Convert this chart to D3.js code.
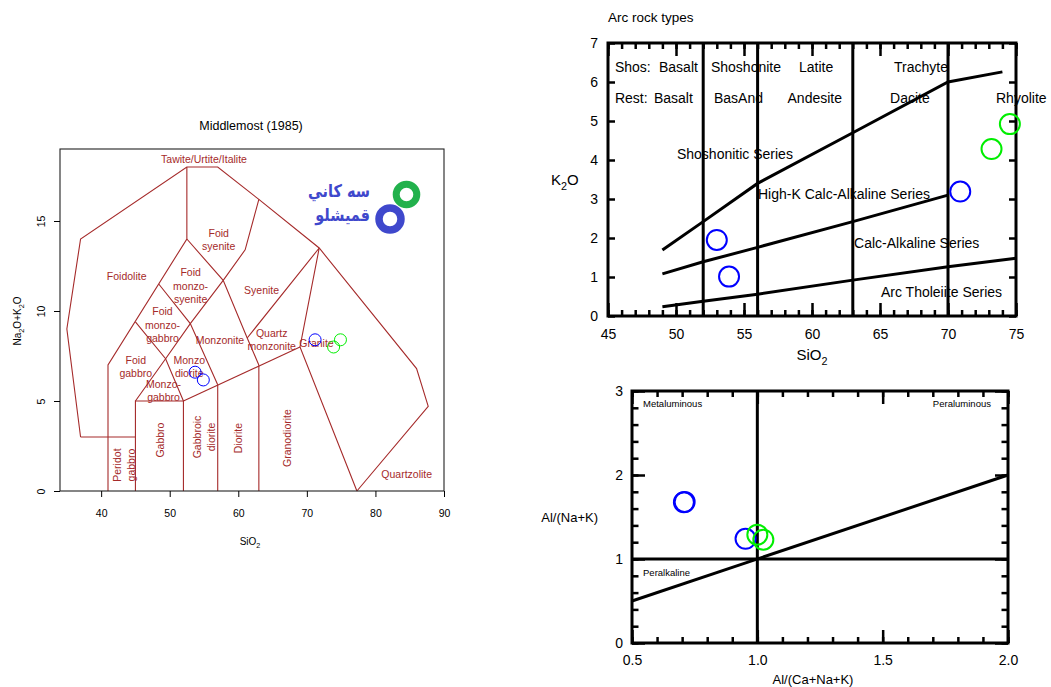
<!DOCTYPE html>
<html>
<head>
<meta charset="utf-8">
<script src="https://cdn.jsdelivr.net/npm/d3@7"></script>
<style>
  body { margin: 0; background: #fff; }
  svg { display: block; }
  text { font-family: "Liberation Sans", Arial, Helvetica, sans-serif; fill: #000; }
</style>
</head>
<body>
<svg id="fig" width="1051" height="687"></svg>
<script>
// ================= data =================
// Middlemost plutonic TAS diagram
const tasXTicks = [40, 50, 60, 70, 80, 90];
const tasYTicks = [0, 5, 10, 15];
const tasBlueSiO2 = [53.7, 54.9, 71.2];
const tasBlueAlk = [6.6, 6.17, 8.4];
const tasGreenSiO2 = [74.9, 73.9];
const tasGreenAlk = [8.4, 8.0];
// field boundaries, [SiO2, Na2O+K2O]
const tasBoundaries = [
  [[37, 3], [35, 9], [37, 14], [52.5, 18], [57, 18], [63, 16.2], [71.8, 13.5], [86, 6.8], [87.7, 4.7], [77.3, 0]],
  [[37, 3], [45, 3]],
  [[41, 0], [41, 7], [52.5, 14], [52.5, 18]],
  [[45, 0], [45, 5], [52, 5], [52, 0]],
  [[45, 5], [49.4, 7.35], [53, 9.3], [57.8, 11.7]],
  [[45, 9.4], [49.4, 7.35], [52, 5]],
  [[48.4, 11.5], [53, 9.3], [57, 5.9]],
  [[57, 0], [57, 5.9]],
  [[52, 5], [69, 8]],
  [[63, 0], [63, 7], [61.3, 8.5], [57.8, 11.7], [52.5, 14]],
  [[57.8, 11.7], [61, 13.4], [63, 16.2]],
  [[61.3, 8.5], [71.8, 13.5], [69, 8], [77.3, 0]]
];
const tasFieldNames = [
  ["Tawite/Urtite/Italite"], ["Foid", "syenite"], ["Foidolite"], ["Foid", "monzo-", "syenite"],
  ["Foid", "monzo-", "gabbro"], ["Monzonite"], ["Syenite"], ["Quartz", "monzonite"], ["Granite"],
  ["Foid", "gabbro"], ["Monzo", "diorite"], ["Monzo-", "gabbro"], ["Quartzolite"]
];
const tasFieldAt = [
  [55.0, 18.43], [57.15, 14.32], [43.73, 11.9], [53.05, 12.13],
  [48.95, 9.96], [57.33, 8.39], [63.4, 11.17], [64.87, 8.76], [71.4, 8.22],
  [45.05, 7.28], [52.85, 7.28], [49.1, 5.93], [84.56, 0.94]
];
// upright field names in the low-alkali columns
const tasColumnNames = [["Peridot", "gabbro"], ["Gabbro"], ["Gabbroic", "diorite"], ["Diorite"], ["Granodiorite"]];
const tasColumnAt = [[43.36, 1.44], [48.58, 2.83], [55.05, 3.0], [60.0, 2.94], [67.15, 2.94]];
const legendNames = ["سه كاني", "قميشلو"];

// K2O vs SiO2 (arc rock types)
const k2oXTicks = [45, 50, 55, 60, 65, 70, 75];
const k2oYTicks = [0, 1, 2, 3, 4, 5, 6, 7];
const rockDividers = [52, 56, 63, 70];
const tholeiiteLine = [[49, 0.24], [52, 0.38], [56, 0.56], [63, 0.92], [70, 1.26], [75, 1.48]];
const calcAlkalineLine = [[49, 1.08], [52, 1.39], [56, 1.76], [63, 2.42], [70, 3.1]];
const shoshoniticLine = [[49, 1.69], [52, 2.42], [56, 3.4], [63, 4.7], [70, 6.0], [74, 6.26]];
const k2oBlueSiO2 = [53.0, 53.9, 70.9];
const k2oBlueK2O = [1.95, 1.01, 3.19];
const k2oGreenSiO2 = [74.55, 73.2];
const k2oGreenK2O = [4.92, 4.28];
const shosNames = ["Shos:", "Basalt", "Shoshonite", "Latite", "Trachyte"];
const shosAt = [45.51, 48.75, 52.57, 59.04, 66.03];
const restNames = ["Rest:", "Basalt", "BasAnd", "Andesite", "Dacite", "Rhyolite"];
const restAt = [45.51, 48.38, 52.79, 58.2, 65.74, 73.53];
const seriesNames = ["Shoshonitic Series", "High-K Calc-Alkaline Series", "Calc-Alkaline Series", "Arc Tholeiite Series"];
const seriesAt = [[50.07, 4.15], [56.03, 3.13], [63.09, 1.88], [65.07, 0.615]];

// A/NK vs A/CNK
const acnkTicks = [0.5, 1.0, 1.5, 2.0];
const ankTicks = [0, 1, 2, 3];
const blueACNK = [0.707, 0.71, 0.953];
const blueANK = [1.675, 1.68, 1.24];
const greenACNK = [1.0, 1.024];
const greenANK = [1.29, 1.23];

// ================= drawing =================
const svg = d3.select("#fig");
const RED = "#a52a2a";
const BLUE = "#0000ff";
const GREEN = "#00ee00";

function rich(t, parts, size) {
  // parts: [string, isSubscript]
  let shifted = false;
  parts.forEach(([s, sub]) => {
    const sp = t.append("tspan").text(s);
    if (sub && !shifted) { sp.attr("dy", size * 0.3).style("font-size", (size * 0.72) + "px"); shifted = true; }
    else if (sub) { sp.style("font-size", (size * 0.72) + "px"); }
    else if (shifted) { sp.attr("dy", -size * 0.3); shifted = false; }
  });
}
function styleAxis(g, width) {
  g.select(".domain").remove();
  g.selectAll(".tick line").attr("stroke", "#000").attr("stroke-width", width);
  g.attr("font-family", null).attr("font-size", null);
}

// ---------- TAS panel ----------
const tx = d3.scaleLinear().domain([34, 90]).range([60, 444]);
const ty = d3.scaleLinear().domain([0, 19]).range([491, 149]);
const tas = svg.append("g");
const tline = d3.line().x(d => tx(d[0])).y(d => ty(d[1]));

tas.append("text").attr("x", 251).attr("y", 126).attr("dy", "0.35em")
  .attr("text-anchor", "middle").style("font-size", "12.5px").text("Middlemost (1985)");

tas.selectAll("path.field").data(tasBoundaries).join("path")
  .attr("class", "field").attr("d", tline)
  .attr("fill", "none").attr("stroke", RED).attr("stroke-width", 1.1);

tas.selectAll("text.fname").data(tasFieldNames).join("text")
  .attr("class", "fname").attr("text-anchor", "middle")
  .style("font-size", "10.5px").style("fill", RED)
  .each(function (lines, i) {
    const t = d3.select(this);
    const x0 = tx(tasFieldAt[i][0]), y0 = ty(tasFieldAt[i][1]);
    lines.forEach((ln, j) => t.append("tspan").attr("x", x0).attr("y", y0 + j * 13.4).attr("dy", "0.35em").text(ln));
  });

tas.selectAll("text.cname").data(tasColumnNames).join("text")
  .attr("class", "cname").attr("text-anchor", "middle")
  .style("font-size", "10.5px").style("fill", RED)
  .attr("transform", (d, i) => `translate(${tx(tasColumnAt[i][0])},${ty(tasColumnAt[i][1])}) rotate(-90)`)
  .each(function (lines) {
    const t = d3.select(this);
    const off = (lines.length - 1) * 14.6 / 2;
    lines.forEach((ln, j) => t.append("tspan").attr("x", 0).attr("y", -off + j * 14.6).attr("dy", "0.35em").text(ln));
  });

tas.append("rect").attr("x", 60).attr("y", 149).attr("width", 384).attr("height", 342)
  .attr("fill", "none").attr("stroke", "#222").attr("stroke-width", 1.1);

const tasXAxis = tas.append("g").attr("transform", "translate(0,491)")
  .call(d3.axisBottom(tx).tickValues(tasXTicks).tickSize(6).tickPadding(14).tickFormat(d3.format("d")));
styleAxis(tasXAxis, 1);
tasXAxis.selectAll(".tick text").attr("dy", "0.35em").attr("y", 22).style("font-size", "10.5px");

const tasYAxis = tas.append("g").attr("transform", "translate(60,0)")
  .call(d3.axisLeft(ty).tickValues(tasYTicks).tickSize(6).tickFormat(d3.format("d")));
styleAxis(tasYAxis, 1);
tasYAxis.selectAll(".tick text").attr("x", null).attr("dy", null)
  .attr("text-anchor", "middle").attr("transform", "translate(-18.3,0) rotate(-90)")
  .attr("y", 0).attr("dy", "0.35em").style("font-size", "10.5px");

const sio2T = tas.append("text").attr("x", 250).attr("y", 541).attr("text-anchor", "middle")
  .attr("dy", "0.35em").style("font-size", "10px");
rich(sio2T, [["SiO", false], ["2", true]], 10);
const alkT = tas.append("text").attr("text-anchor", "middle")
  .attr("transform", "translate(17,321) rotate(-90)").attr("dy", "0.35em").style("font-size", "10px");
rich(alkT, [["Na", false], ["2", true], ["O+K", false], ["2", true], ["O", false]], 10);

tas.selectAll("circle.tb").data(tasBlueSiO2).join("circle").attr("class", "tb")
  .attr("cx", d => tx(d)).attr("cy", (d, i) => ty(tasBlueAlk[i])).attr("r", 6)
  .attr("fill", "none").attr("stroke", BLUE).attr("stroke-width", 1);
tas.selectAll("circle.tg").data(tasGreenSiO2).join("circle").attr("class", "tg")
  .attr("cx", d => tx(d)).attr("cy", (d, i) => ty(tasGreenAlk[i])).attr("r", 6)
  .attr("fill", "none").attr("stroke", GREEN).attr("stroke-width", 1);

// legend: ring symbols with locality names
const lg = tas.append("g");
lg.append("circle").attr("cx", 406.5).attr("cy", 194.5).attr("r", 10.3)
  .attr("fill", "none").attr("stroke", "#22b14c").attr("stroke-width", 7);
lg.append("circle").attr("cx", 390).attr("cy", 219).attr("r", 11)
  .attr("fill", "none").attr("stroke", "#3f48cc").attr("stroke-width", 7.5);
lg.selectAll("text").data(legendNames).join("text")
  .attr("text-anchor", "end")
  .attr("transform", (d, i) => `translate(370,${191 + i * 24}) scale(1,1.2)`)
  .attr("dy", "0.35em")
  .style("font-family", "'DejaVu Sans', 'Noto Sans', sans-serif")
  .style("font-size", "14.5px").style("font-weight", "bold").style("fill", "#3f48cc")
  .text(d => d);

// ---------- K2O vs SiO2 panel ----------
const kx = d3.scaleLinear().domain([45, 75]).range([608, 1016]);
const ky = d3.scaleLinear().domain([0, 7]).range([316, 43]);
const kp = svg.append("g");
const kline = d3.line().x(d => kx(d[0])).y(d => ky(d[1]));

kp.append("text").attr("x", 608).attr("y", 17).attr("dy", "0.35em").style("font-size", "13.5px").text("Arc rock types");

kp.selectAll("line.div").data(rockDividers).join("line").attr("class", "div")
  .attr("x1", d => kx(d)).attr("x2", d => kx(d)).attr("y1", ky(0)).attr("y2", ky(7))
  .attr("stroke", "#000").attr("stroke-width", 3);
kp.selectAll("path.series").data([tholeiiteLine, calcAlkalineLine, shoshoniticLine]).join("path")
  .attr("class", "series").attr("d", kline).attr("fill", "none")
  .attr("stroke", "#000").attr("stroke-width", 3);

const kMinor = d3.range(45, 76, 1);
[["b", 316], ["t", 43]].forEach(([side, yy]) => {
  const mk = side === "b" ? d3.axisBottom : d3.axisTop;
  const g1 = kp.append("g").attr("transform", `translate(0,${yy})`)
    .call(mk(kx).tickValues(kMinor).tickSizeInner(-6).tickSizeOuter(0).tickFormat(""));
  styleAxis(g1, 2.5);
  const g2 = kp.append("g").attr("transform", `translate(0,${yy})`)
    .call(mk(kx).tickValues(k2oXTicks).tickSizeInner(-13).tickSizeOuter(0).tickPadding(13)
      .tickFormat(side === "b" ? d3.format("d") : ""));
  styleAxis(g2, 2.5);
  g2.selectAll(".tick text").style("font-size", "14px");
});
const kyl = kp.append("g").attr("transform", "translate(608,0)")
  .call(d3.axisLeft(ky).tickValues(k2oYTicks).tickSizeInner(-7).tickSizeOuter(0).tickPadding(10).tickFormat(d3.format("d")));
styleAxis(kyl, 2.5);
kyl.selectAll(".tick text").style("font-size", "14px");
const kyr = kp.append("g").attr("transform", "translate(1016,0)")
  .call(d3.axisRight(ky).tickValues(k2oYTicks).tickSizeInner(-7).tickSizeOuter(0).tickFormat(""));
styleAxis(kyr, 2.5);

kp.append("rect").attr("x", 608).attr("y", 43).attr("width", 408).attr("height", 273)
  .attr("fill", "none").attr("stroke", "#000").attr("stroke-width", 3);

kp.selectAll("text.shos").data(shosNames).join("text").attr("class", "shos")
  .attr("x", (d, i) => kx(shosAt[i])).attr("y", ky(6.37)).attr("dy", "0.35em")
  .style("font-size", "14px").text(d => d);
kp.selectAll("text.rest").data(restNames).join("text").attr("class", "rest")
  .attr("x", (d, i) => kx(restAt[i])).attr("y", ky(5.6)).attr("dy", "0.35em")
  .style("font-size", "14px").text(d => d);
kp.selectAll("text.ser").data(seriesNames).join("text").attr("class", "ser")
  .attr("x", (d, i) => kx(seriesAt[i][0])).attr("y", (d, i) => ky(seriesAt[i][1])).attr("dy", "0.35em")
  .style("font-size", "14px").text(d => d);

const kxT = kp.append("text").attr("x", 812).attr("y", 355).attr("dy", "0.35em")
  .attr("text-anchor", "middle").style("font-size", "15px");
rich(kxT, [["SiO", false], ["2", true]], 15);
const kyT = kp.append("text").attr("x", 551).attr("y", 180).attr("dy", "0.35em").style("font-size", "15px");
rich(kyT, [["K", false], ["2", true], ["O", false]], 15);

kp.selectAll("circle.kb").data(k2oBlueSiO2).join("circle").attr("class", "kb")
  .attr("cx", d => kx(d)).attr("cy", (d, i) => ky(k2oBlueK2O[i])).attr("r", 10)
  .attr("fill", "none").attr("stroke", BLUE).attr("stroke-width", 2);
kp.selectAll("circle.kg").data(k2oGreenSiO2).join("circle").attr("class", "kg")
  .attr("cx", d => kx(d)).attr("cy", (d, i) => ky(k2oGreenK2O[i])).attr("r", 10)
  .attr("fill", "none").attr("stroke", GREEN).attr("stroke-width", 2);

// ---------- A/NK vs A/CNK panel ----------
const ax = d3.scaleLinear().domain([0.5, 2.0]).range([632, 1008]);
const ay = d3.scaleLinear().domain([0, 3]).range([643, 391]);
const ap = svg.append("g");

ap.append("line").attr("x1", ax(0.5)).attr("x2", ax(2.0)).attr("y1", ay(1)).attr("y2", ay(1))
  .attr("stroke", "#000").attr("stroke-width", 3);
ap.append("line").attr("x1", ax(1.0)).attr("x2", ax(1.0)).attr("y1", ay(0)).attr("y2", ay(3))
  .attr("stroke", "#000").attr("stroke-width", 3);
ap.append("line").attr("x1", ax(0.5)).attr("x2", ax(2.0)).attr("y1", ay(0.5)).attr("y2", ay(2.0))
  .attr("stroke", "#000").attr("stroke-width", 3);

const aMinorX = d3.range(5, 21).map(d => d / 10);
const aMinorY = d3.range(0, 16).map(d => d / 5);
[["b", 643], ["t", 391]].forEach(([side, yy]) => {
  const mk = side === "b" ? d3.axisBottom : d3.axisTop;
  const g1 = ap.append("g").attr("transform", `translate(0,${yy})`)
    .call(mk(ax).tickValues(aMinorX).tickSizeInner(-6).tickSizeOuter(0).tickFormat(""));
  styleAxis(g1, 2.5);
  const g2 = ap.append("g").attr("transform", `translate(0,${yy})`)
    .call(mk(ax).tickValues(acnkTicks).tickSizeInner(-13).tickSizeOuter(0).tickPadding(12)
      .tickFormat(side === "b" ? d3.format(".1f") : ""));
  styleAxis(g2, 2.5);
  g2.selectAll(".tick text").style("font-size", "14px");
});
[["l", 632], ["r", 1008]].forEach(([side, xx]) => {
  const mk = side === "l" ? d3.axisLeft : d3.axisRight;
  const g1 = ap.append("g").attr("transform", `translate(${xx},0)`)
    .call(mk(ay).tickValues(aMinorY).tickSizeInner(-6.5).tickSizeOuter(0).tickFormat(""));
  styleAxis(g1, 2.5);
  const g2 = ap.append("g").attr("transform", `translate(${xx},0)`)
    .call(mk(ay).tickValues(ankTicks).tickSizeInner(-13).tickSizeOuter(0).tickPadding(9)
      .tickFormat(side === "l" ? d3.format("d") : ""));
  styleAxis(g2, 2.5);
  g2.selectAll(".tick text").style("font-size", "14px");
});

ap.append("rect").attr("x", 632).attr("y", 391).attr("width", 376).attr("height", 252)
  .attr("fill", "none").attr("stroke", "#000").attr("stroke-width", 3);

ap.append("text").attr("x", ax(0.544)).attr("y", ay(2.845)).attr("dy", "0.35em")
  .style("font-size", "9.5px").text("Metaluminous");
ap.append("text").attr("x", ax(1.932)).attr("y", ay(2.845)).attr("dy", "0.35em")
  .attr("text-anchor", "end").style("font-size", "9.5px").text("Peraluminous");
ap.append("text").attr("x", ax(0.544)).attr("y", ay(0.84)).attr("dy", "0.35em")
  .style("font-size", "9.5px").text("Peralkaline");

ap.append("text").attr("x", 813).attr("y", 679).attr("dy", "0.35em").attr("text-anchor", "middle")
  .style("font-size", "13px").text("Al/(Ca+Na+K)");
ap.append("text").attr("x", 598).attr("y", 517).attr("dy", "0.35em").attr("text-anchor", "end")
  .style("font-size", "13px").text("Al/(Na+K)");

ap.selectAll("circle.ab").data(blueACNK).join("circle").attr("class", "ab")
  .attr("cx", d => ax(d)).attr("cy", (d, i) => ay(blueANK[i])).attr("r", 10)
  .attr("fill", "none").attr("stroke", BLUE).attr("stroke-width", 2);
ap.selectAll("circle.ag").data(greenACNK).join("circle").attr("class", "ag")
  .attr("cx", d => ax(d)).attr("cy", (d, i) => ay(greenANK[i])).attr("r", 10)
  .attr("fill", "none").attr("stroke", GREEN).attr("stroke-width", 2);
</script>
</body>
</html>
